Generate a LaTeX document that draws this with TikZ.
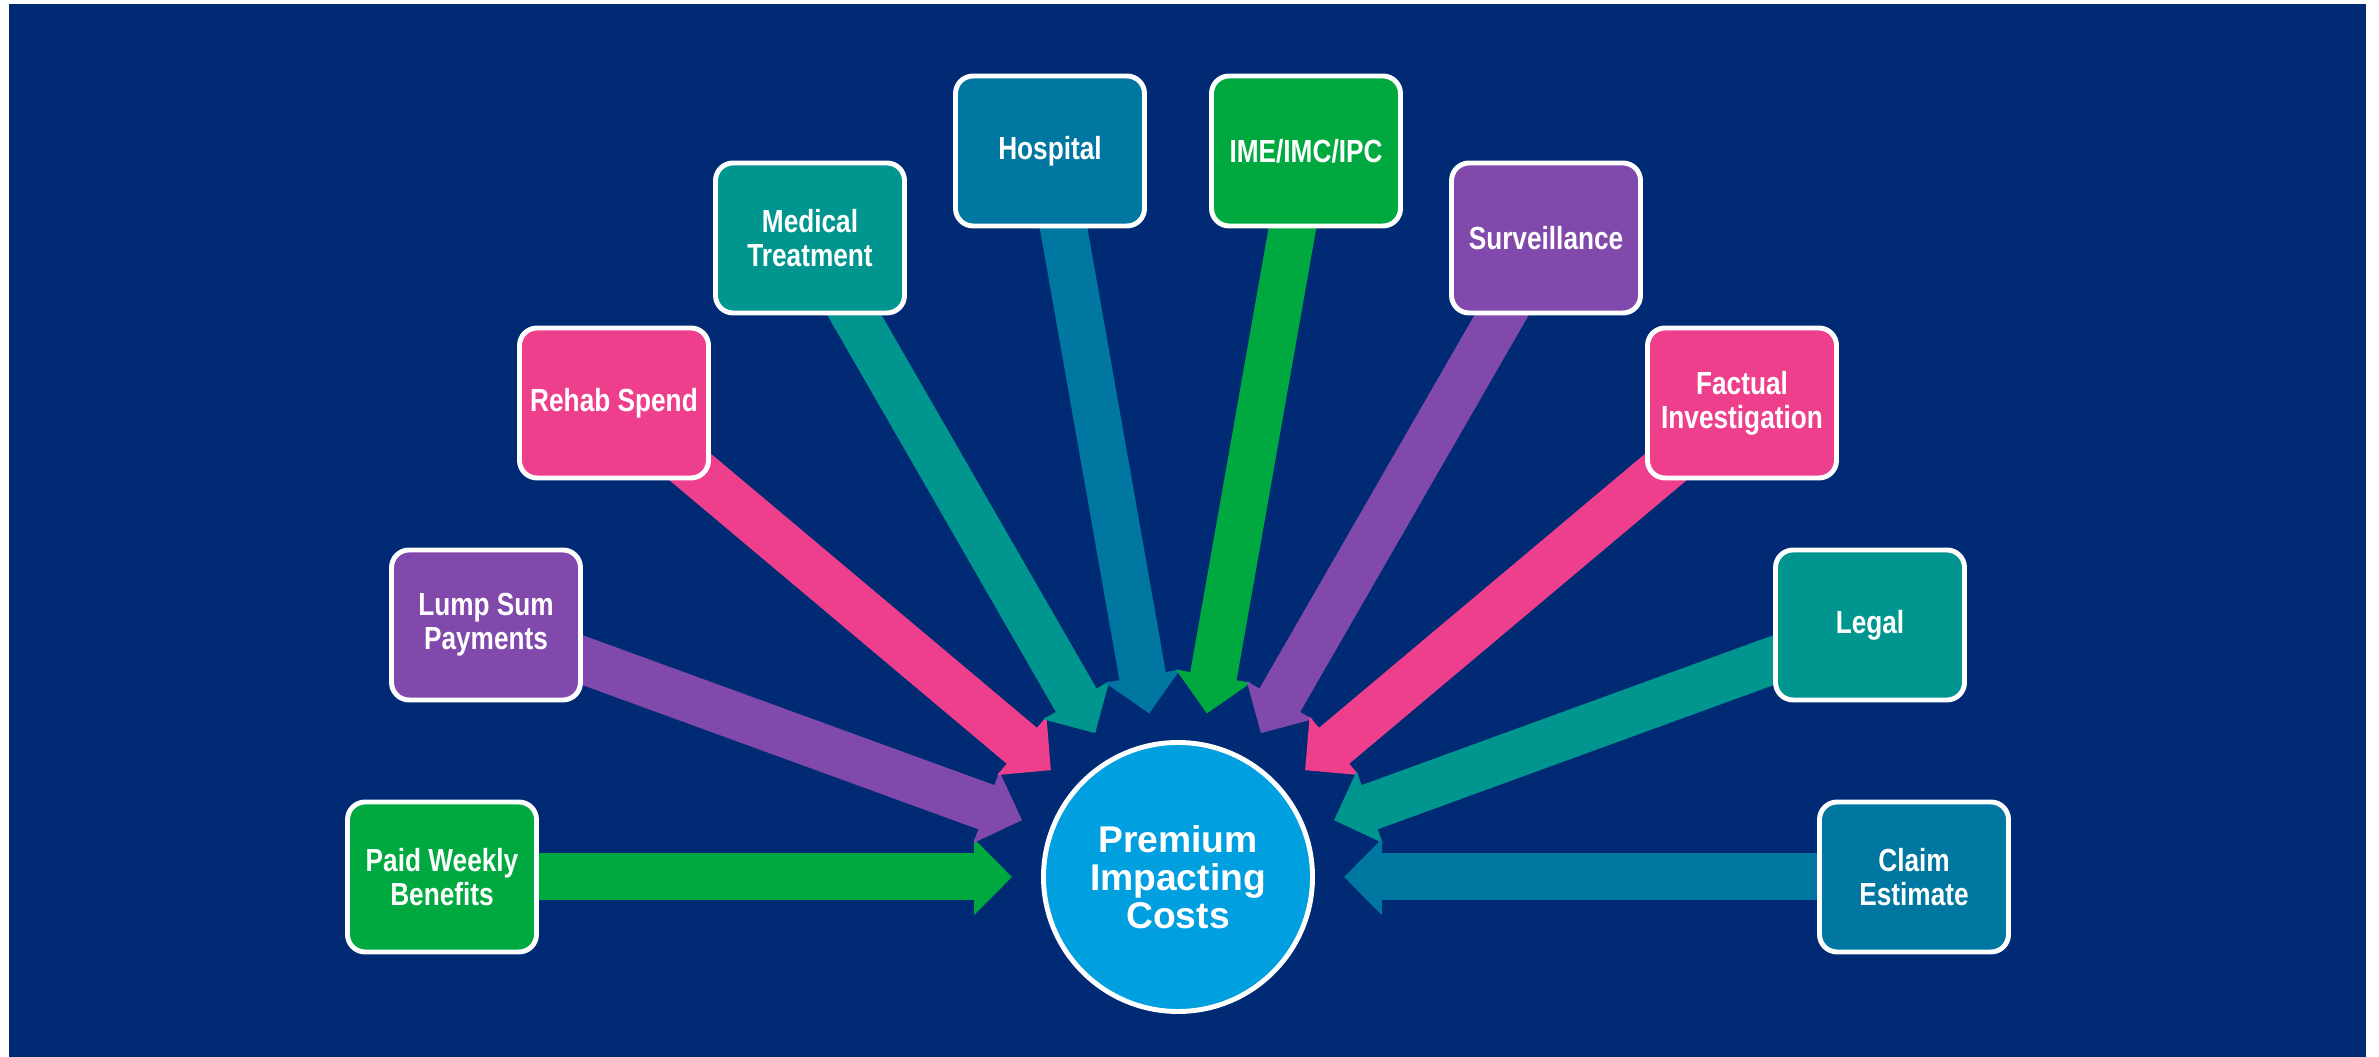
\documentclass[tikz,border=0pt]{standalone}
\usepackage{fontspec}
\setmainfont{Liberation Sans}
\newfontfamily\narrowsans{Liberation Sans}[FakeStretch=0.82]
\usetikzlibrary{arrows.meta}

\definecolor{pcNavy}{RGB}{0,42,116}
\definecolor{pcGreen}{RGB}{0,169,64}
\definecolor{pcPurple}{RGB}{129,73,172}
\definecolor{pcPink}{RGB}{238,63,140}
\definecolor{pcTeal}{RGB}{0,150,143}
\definecolor{pcOcean}{RGB}{0,119,160}
\definecolor{pcSky}{RGB}{0,159,223}

\pgfdeclarelayer{back}
\pgfdeclarelayer{links}
\pgfsetlayers{back,links,main}

\tikzset{
  costbox/.style={rectangle, rounded corners=5pt, draw=white, line width=1.4pt,
    minimum width=1.89cm, minimum height=1.50cm, inner sep=2pt, text=white,
    align=center, font=\narrowsans\bfseries\fontsize{9.1pt}{9.6pt}\selectfont},
  hubnode/.style={circle, draw=white, line width=1.4pt, fill=pcSky,
    minimum size=2.69cm, inner sep=0pt, text=white, align=center,
    font=\bfseries\fontsize{10.6pt}{10.9pt}\selectfont},
  feed/.style={line width=0.47cm, -{Triangle[width=0.74cm,length=0.38cm]},
    shorten >=0.29cm},
}

\begin{document}
\begin{tikzpicture}
  \useasboundingbox (0,0) rectangle (23.79,10.57);
  \begin{pgfonlayer}{back}
    \fill[pcNavy] (0.09,0) rectangle (23.66,10.53);
  \end{pgfonlayer}

  % centre
  \node[hubnode] (hub) at (11.78,1.80) {Premium\\Impacting\\Costs};

  % cost boxes, left to right
  \node[costbox, fill=pcGreen]  (pw)  at (4.42,1.80)  {Paid Weekly\\Benefits};
  \node[costbox, fill=pcPurple] (ls)  at (4.86,4.32)  {Lump Sum\\Payments};
  \node[costbox, fill=pcPink]   (rs)  at (6.14,6.54)  {Rehab Spend};
  \node[costbox, fill=pcTeal]   (mt)  at (8.10,8.19)  {Medical\\Treatment};
  \node[costbox, fill=pcOcean]  (hp)  at (10.50,9.06) {Hospital};
  \node[costbox, fill=pcGreen]  (ime) at (13.06,9.06) {IME/IMC/IPC};
  \node[costbox, fill=pcPurple] (sv)  at (15.46,8.19) {Surveillance};
  \node[costbox, fill=pcPink]   (fi)  at (17.42,6.54) {Factual\\Investigation};
  \node[costbox, fill=pcTeal]   (lg)  at (18.70,4.32) {Legal};
  \node[costbox, fill=pcOcean]  (ce)  at (19.14,1.80) {Claim\\Estimate};

  % block arrows into the centre
  \begin{pgfonlayer}{links}
    \foreach \b/\c in {pw/pcGreen, ls/pcPurple, rs/pcPink, mt/pcTeal, hp/pcOcean,
                       ime/pcGreen, sv/pcPurple, fi/pcPink, lg/pcTeal, ce/pcOcean}
      \draw[feed, color=\c] (\b.center) -- (hub);
  \end{pgfonlayer}
\end{tikzpicture}
\end{document}
